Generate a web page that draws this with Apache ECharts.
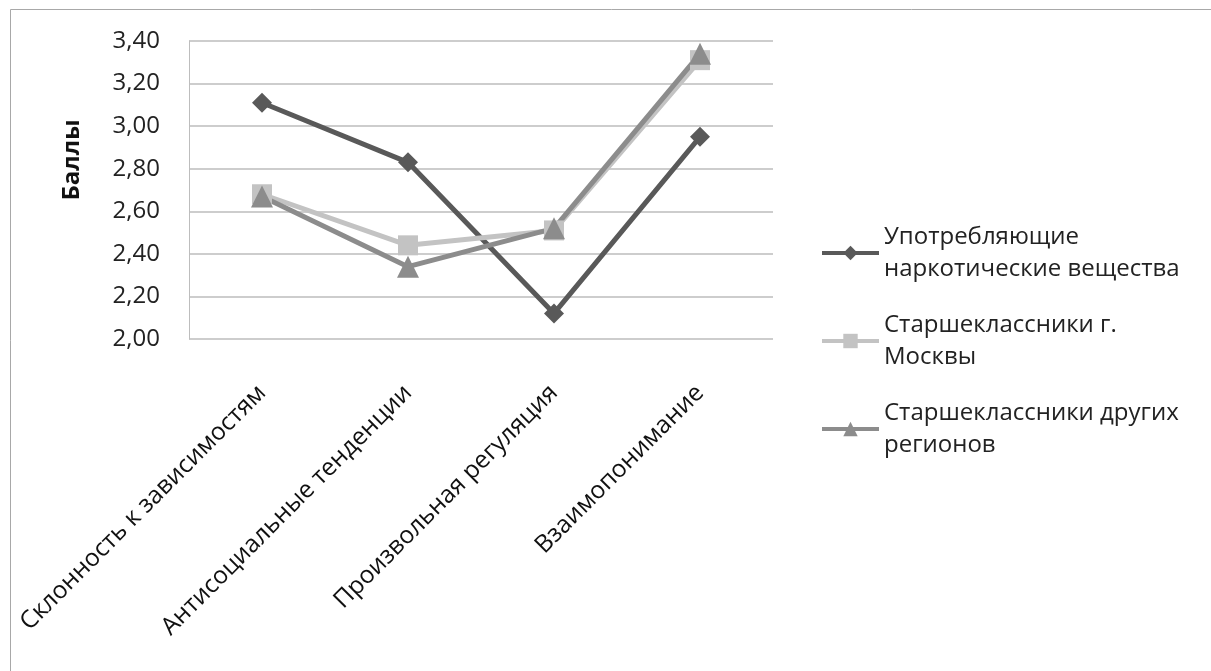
<!DOCTYPE html>
<html>
<head>
<meta charset="utf-8">
<script src="https://cdn.jsdelivr.net/npm/echarts@6/dist/echarts.min.js"></script>
<style>
  html, body { margin: 0; padding: 0; background: #fff; }
  #chart { width: 1211px; height: 671px; }
</style>
</head>
<body>
<div id="chart"></div>
<script>
// Шкалы и категории
const categories = [
  'Склонность к зависимостям',
  'Антисоциальные тенденции',
  'Произвольная регуляция',
  'Взаимопонимание'
];
const yTicks = [2.0, 2.2, 2.4, 2.6, 2.8, 3.0, 3.2, 3.4];

// Названия групп и подписи легенды с переносом строк
const seriesNames = [
  'Употребляющие наркотические вещества',
  'Старшеклассники г. Москвы',
  'Старшеклассники других регионов'
];
const legendLabels = [
  'Употребляющие\nнаркотические вещества',
  'Старшеклассники г.\nМосквы',
  'Старшеклассники других\nрегионов'
];

// Средние баллы по группам
const drugUsers = [3.11, 2.83, 2.12, 2.95];
const moscowPupils = [2.68, 2.44, 2.51, 3.31];
const regionPupils = [2.67, 2.34, 2.52, 3.34];

const FONT = '"Open Sans", "Noto Sans", sans-serif';
const chart = echarts.init(document.getElementById('chart'), null, { renderer: 'canvas' });

const legendMap = {};
seriesNames.forEach((n, i) => { legendMap[n] = legendLabels[i]; });

function lineSeries(name, data, color, symbol, size) {
  return {
    name: name,
    type: 'line',
    data: data,
    symbol: symbol,
    symbolSize: size,
    lineStyle: { color: color, width: 5 },
    itemStyle: { color: color },
    emphasis: { disabled: true },
    z: 3
  };
}

chart.setOption({
  animation: false,
  backgroundColor: '#fff',
  textStyle: { fontFamily: FONT },
  grid: { left: 189, top: 41, right: 438, bottom: 332, containLabel: false },
  graphic: [
    {
      type: 'rect',
      shape: { x: 10.5, y: 9.5, width: 1230, height: 700 },
      style: { fill: 'none', stroke: '#a8a8a8', lineWidth: 1 },
      silent: true
    },
    {
      type: 'text',
      x: 72, y: 160,
      rotation: Math.PI / 2,
      style: {
        text: 'Баллы',
        font: 'bold 24px ' + FONT,
        fill: '#111',
        align: 'center',
        verticalAlign: 'middle'
      },
      silent: true
    }
  ],
  legend: {
    orient: 'vertical',
    left: 815,
    top: 200,
    itemWidth: 57,
    itemHeight: 18,
    itemGap: -8,
    selectedMode: false,
    lineStyle: { width: 4 },
    formatter: name => legendMap[name],
    textStyle: {
      fontFamily: FONT,
      fontSize: 24,
      color: '#222',
      lineHeight: 32,
      padding: [32, 0, 0, 0]
    },
    data: seriesNames
  },
  xAxis: {
    type: 'category',
    data: categories,
    boundaryGap: true,
    axisLine: { show: false },
    axisTick: { show: false },
    axisLabel: {
      rotate: 45,
      interval: 0,
      margin: 50,
      fontSize: 24.5,
      color: '#111',
      fontFamily: FONT
    },
    splitLine: { show: false }
  },
  yAxis: {
    type: 'value',
    min: 2.0,
    max: 3.4,
    interval: 0.2,
    axisLine: { show: true, lineStyle: { color: '#bdbdbd', width: 1 } },
    axisTick: { show: false },
    axisLabel: {
      margin: 29,
      fontSize: 24,
      color: '#222',
      fontFamily: FONT,
      formatter: v => {
        const t = yTicks.find(x => Math.abs(x - v) < 1e-6);
        return (t !== undefined ? t : v).toFixed(2).replace('.', ',');
      }
    },
    splitLine: { show: true, lineStyle: { color: '#bdbdbd', width: 1.5 } }
  },
  series: [
    lineSeries(seriesNames[0], drugUsers, '#595959', 'diamond', 20),
    lineSeries(seriesNames[1], moscowPupils, '#c3c3c3', 'rect', 20),
    lineSeries(seriesNames[2], regionPupils, '#8c8c8c', 'triangle', 22)
  ]
});
</script>
</body>
</html>
